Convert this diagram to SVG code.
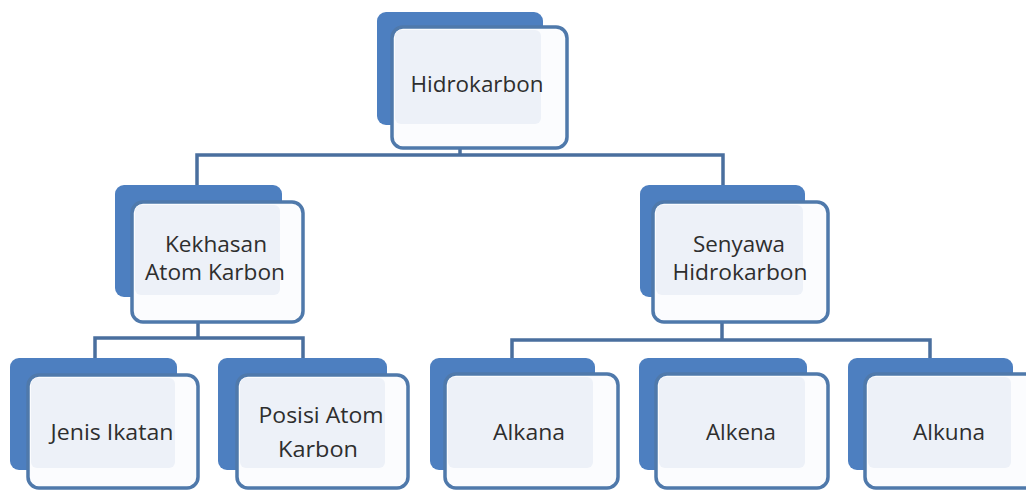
<svg xmlns="http://www.w3.org/2000/svg" width="1026" height="490" viewBox="0 0 1026 490">
<style>
.back{fill:#4d7fc0;}
.front{fill:#fbfcfe;stroke:#4f79ab;stroke-width:3.5;}
.inner{fill:#edf1f8;}
.lbl{font-family:"Open Sans","Noto Sans","Liberation Sans",sans-serif;font-size:21px;fill:#2e2e2e;text-anchor:middle;}
.conn{fill:none;stroke:#4a6f9e;stroke-width:3.5;}
</style>
<rect width="1026" height="490" fill="#ffffff"/>
<g id="connectors">
<polyline class="conn" points="460,148 460,155"/>
<polyline class="conn" points="197,185 197,155 723,155 723,185"/>
<polyline class="conn" points="198,322 198,338"/>
<polyline class="conn" points="95,358 95,338 303,338 303,358"/>
<polyline class="conn" points="722,322 722,340"/>
<polyline class="conn" points="512,358 512,340 930,340 930,358"/>
</g>
<g id="n-hidrokarbon">
<rect class="back" x="377" y="12" width="166" height="113" rx="9"/>
<rect class="front" x="392" y="27" width="175" height="121" rx="11"/>
<rect class="inner" x="395" y="30" width="146" height="94" rx="6"/>
<text class="lbl" x="477" y="92" textLength="133" lengthAdjust="spacingAndGlyphs">Hidrokarbon</text>
</g>
<g id="n-kekhasan">
<rect class="back" x="115" y="185" width="167" height="112" rx="9"/>
<rect class="front" x="132" y="202" width="171" height="120" rx="11"/>
<rect class="inner" x="135" y="205" width="145" height="90" rx="6"/>
<text class="lbl" x="216" y="252" textLength="102" lengthAdjust="spacingAndGlyphs">Kekhasan</text>
<text class="lbl" x="215" y="280" textLength="140" lengthAdjust="spacingAndGlyphs">Atom Karbon</text>
</g>
<g id="n-senyawa">
<rect class="back" x="640" y="185" width="165" height="112" rx="9"/>
<rect class="front" x="653" y="202" width="175" height="120" rx="11"/>
<rect class="inner" x="656" y="205" width="147" height="90" rx="6"/>
<text class="lbl" x="739" y="252" textLength="92" lengthAdjust="spacingAndGlyphs">Senyawa</text>
<text class="lbl" x="740" y="280" textLength="135" lengthAdjust="spacingAndGlyphs">Hidrokarbon</text>
</g>
<g id="n-jenis">
<rect class="back" x="10" y="358" width="167" height="112" rx="9"/>
<rect class="front" x="28" y="375" width="170" height="113" rx="11"/>
<rect class="inner" x="31" y="378" width="144" height="90" rx="6"/>
<text class="lbl" x="112" y="440" textLength="123" lengthAdjust="spacingAndGlyphs">Jenis Ikatan</text>
</g>
<g id="n-posisi">
<rect class="back" x="218" y="358" width="169" height="112" rx="9"/>
<rect class="front" x="237" y="375" width="171" height="113" rx="11"/>
<rect class="inner" x="240" y="378" width="145" height="90" rx="6"/>
<text class="lbl" x="321" y="423" textLength="125" lengthAdjust="spacingAndGlyphs">Posisi Atom</text>
<text class="lbl" x="318" y="457" textLength="80" lengthAdjust="spacingAndGlyphs">Karbon</text>
</g>
<g id="n-alkana">
<rect class="back" x="430" y="358" width="165" height="112" rx="9"/>
<rect class="front" x="445" y="374" width="173" height="114" rx="11"/>
<rect class="inner" x="448" y="377" width="145" height="91" rx="6"/>
<text class="lbl" x="529" y="440" textLength="72" lengthAdjust="spacingAndGlyphs">Alkana</text>
</g>
<g id="n-alkena">
<rect class="back" x="639" y="358" width="168" height="112" rx="9"/>
<rect class="front" x="656" y="374" width="172" height="114" rx="11"/>
<rect class="inner" x="659" y="377" width="146" height="91" rx="6"/>
<text class="lbl" x="741" y="440" textLength="70" lengthAdjust="spacingAndGlyphs">Alkena</text>
</g>
<g id="n-alkuna">
<rect class="back" x="848" y="358" width="165" height="112" rx="9"/>
<rect class="front" x="865" y="374" width="175" height="114" rx="11"/>
<rect class="inner" x="868" y="377" width="143" height="91" rx="6"/>
<text class="lbl" x="949" y="440" textLength="72" lengthAdjust="spacingAndGlyphs">Alkuna</text>
</g>
</svg>
